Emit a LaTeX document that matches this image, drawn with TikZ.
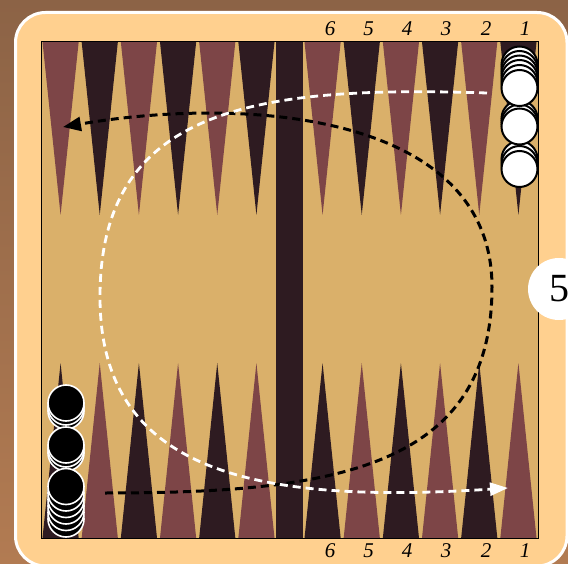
\documentclass[tikz,border=0pt]{standalone}
\usepackage{fontspec}
\setmainfont{Liberation Serif}
\usetikzlibrary{arrows.meta}
\definecolor{woodA}{HTML}{8C6346}
\definecolor{woodB}{HTML}{B27B52}
\definecolor{peach}{HTML}{FFD08F}
\definecolor{boardtan}{HTML}{DAB06A}
\definecolor{ptred}{HTML}{7D4547}
\definecolor{ptdark}{HTML}{2E1B21}
\begin{document}
\begin{tikzpicture}[x=1pt,y=-1pt,
  numlbl/.style={font=\fontsize{21}{21}\selectfont\itshape, inner sep=0pt, text=black},
  cubenode/.style={circle, fill=white, minimum size=62pt, inner sep=0pt, font=\fontsize{40}{40}\selectfont},
  wchk/.style={fill=white, draw=black, line width=2pt},
  bchk/.style={fill=black, draw=white, line width=1.6pt},
  blackpath/.style={draw=black, line width=3pt, dash pattern=on 8pt off 5pt, -{Triangle[length=18pt,width=14pt]}},
  whitepath/.style={draw=white, line width=2.8pt, dash pattern=on 8pt off 5pt, -{Triangle[length=18pt,width=13pt]}}]
\useasboundingbox (0,0) rectangle (568,564);
\clip (0,0) rectangle (568,564);
% wood background
\shade[top color=woodA, bottom color=woodB] (0,0) rectangle (568,564);
% peach frame
\draw[fill=peach, draw=white, line width=3pt, rounded corners=30pt] (15.5,12.5) rectangle (567,566);
% board
\fill[boardtan] (41,42) rectangle (538,538);
% points
\foreach \i/\ct/\cb in {0/ptred/ptdark,1/ptdark/ptred,2/ptred/ptdark,3/ptdark/ptred,4/ptred/ptdark,5/ptdark/ptred} {
  \pgfmathsetmacro\xl{41+\i*39.1667}
  \pgfmathsetmacro\xr{303+\i*39.1667}
  \fill[\ct] (\xl+1.5,42) -- (\xl+37.67,42) -- (\xl+19.58,215) -- cycle;
  \fill[\cb] (\xl+1.5,538) -- (\xl+37.67,538) -- (\xl+19.58,363) -- cycle;
  \fill[\ct] (\xr+1.5,42) -- (\xr+37.67,42) -- (\xr+19.58,215) -- cycle;
  \fill[\cb] (\xr+1.5,538) -- (\xr+37.67,538) -- (\xr+19.58,363) -- cycle;
}
% bar
\fill[ptdark] (276,42) rectangle (303,538);
\draw[black, line width=1pt] (41,42) rectangle (538,538);
% white checkers (behind ones first, then fronts)
\foreach \y in {64.5,69,73.5,78,83,118.5,122.5,159,164}
  \filldraw[wchk] (519.5,\y) circle[radius=18pt];
\foreach \y in {88,126.5,169}
  \filldraw[wchk] (519.5,\y) circle[radius=18pt];
% black checkers
\foreach \y in {519,512.5,506,499.5,493,453,449,411,407}
  \filldraw[bchk] (66,\y) circle[radius=18pt];
\foreach \y in {486.5,445,403}
  \filldraw[bchk] (66,\y) circle[radius=18pt];
% point numbers
\foreach \n/\x in {6/330,5/368.5,4/407,3/446,2/486,1/525} {
  \node[numlbl] (t\n) at (\x,29) {\n};
  \node[numlbl] (b\n) at (\x,551) {\n};
}
% movement paths
\coordinate (bs) at (105,493);
\coordinate (bm) at (492,287);
\coordinate (be) at (63,127);
\draw[blackpath] (bs) .. controls (330,493) and (492,470) .. (bm) .. controls (492,115) and (250,95) .. (be);
\coordinate (ws) at (487,93);
\coordinate (wm) at (100,297);
\coordinate (we) at (508,488);
\draw[whitepath] (ws) .. controls (250,85) and (100,110) .. (wm) .. controls (100,470) and (250,505) .. (we);
% doubling cube
\node[cubenode] (cube) at (559,289) {5};
\end{tikzpicture}
\end{document}
